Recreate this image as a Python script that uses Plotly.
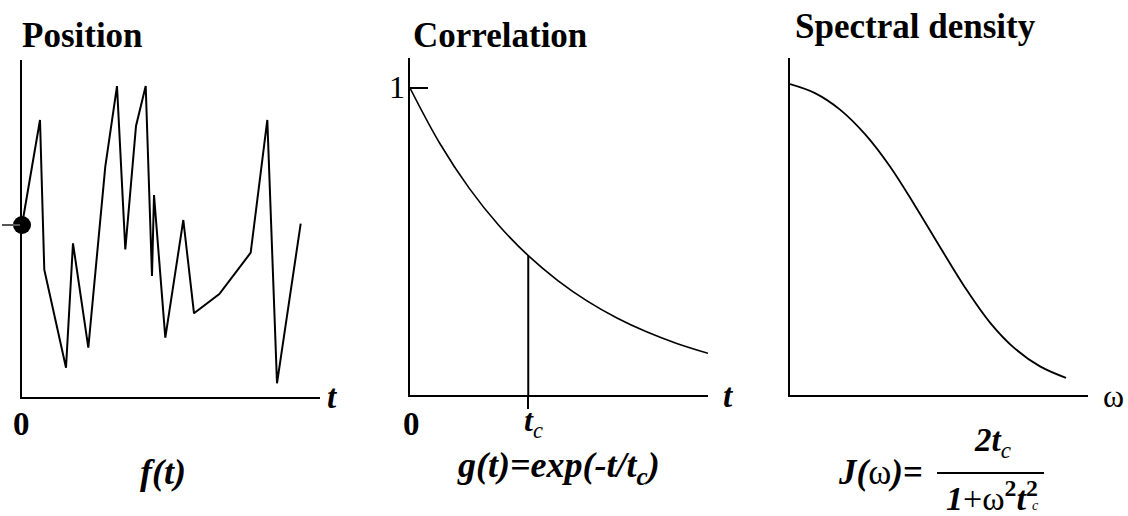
import plotly.graph_objects as go

W, H = 1128, 516

# --- Position: random trajectory f(t) ---
pos_t = [0, 0.604, 0.748, 1.477, 1.711, 2.225, 2.795, 3.188, 3.467, 3.826, 4.151,
         4.362, 4.430, 4.809, 5.413, 5.772, 6.621, 7.674, 8.232, 8.557, 9.352]
pos_f = [5.104, 8.220, 3.777, 0.869, 4.561, 1.463, 6.835, 9.228, 4.380, 8.042, 9.228,
         3.591, 5.994, 1.760, 5.252, 2.484, 3.056, 4.282, 8.220, 0.406, 5.144]

# --- Correlation g(t), time in units of t_c ---
corr_t = [0, 0.25, 0.5, 0.75, 1.0, 1.25, 1.5, 1.75, 2.0, 2.25, 2.52]
corr_g = [1.0, 0.821, 0.674, 0.553, 0.454, 0.373, 0.306, 0.251, 0.206, 0.169, 0.136]
tc_mark = 1.0

# --- Spectral density J(omega) ---
spec_w = [0, 0.25, 0.5, 0.75, 1.0, 1.25, 1.5, 1.75, 2.0, 2.25, 2.5, 2.76]
spec_j = [1.0, 0.971, 0.918, 0.839, 0.735, 0.609, 0.476, 0.346, 0.233, 0.149, 0.092, 0.055]

FONT = "Liberation Serif, Times New Roman, Times, serif"


def px(x):
    return x / W


def py(y):
    return 1 - y / H


fig = go.Figure()

line = dict(color="black", width=2)
fig.add_trace(go.Scatter(x=pos_t, y=pos_f, mode="lines", line=line,
                         xaxis="x", yaxis="y", hoverinfo="skip"))
fig.add_trace(go.Scatter(x=[pos_t[0]], y=[pos_f[0]], mode="markers",
                         marker=dict(color="black", size=18), cliponaxis=False,
                         xaxis="x", yaxis="y", hoverinfo="skip"))

fig.add_trace(go.Scatter(x=corr_t, y=corr_g, mode="lines",
                         line=dict(color="black", width=1.6, shape="spline"),
                         xaxis="x2", yaxis="y2", hoverinfo="skip"))
g_at_tc = corr_g[corr_t.index(tc_mark)]
fig.add_trace(go.Scatter(x=[tc_mark, tc_mark], y=[0, g_at_tc], mode="lines",
                         line=line, xaxis="x2", yaxis="y2", hoverinfo="skip"))

fig.add_trace(go.Scatter(x=spec_w, y=spec_j, mode="lines",
                         line=dict(color="black", width=1.8, shape="spline"),
                         xaxis="x3", yaxis="y3", hoverinfo="skip"))

base_axis = dict(showline=True, linewidth=2, linecolor="black", showgrid=False,
                 zeroline=False, showticklabels=False, ticks="", fixedrange=True)

fig.update_layout(
    width=W, height=H,
    margin=dict(l=0, r=0, t=0, b=0),
    paper_bgcolor="white", plot_bgcolor="white",
    showlegend=False,
    xaxis=dict(base_axis, domain=[px(22), px(320)], range=[0, 10], anchor="y"),
    yaxis=dict(base_axis, domain=[py(397), py(60)], range=[0, 10], anchor="x",
               ticks="outside", tickvals=[pos_f[0]], ticklen=18, tickwidth=1.5,
               tickcolor="#555555"),
    xaxis2=dict(base_axis, domain=[px(410), px(708)], range=[0, 2.52], anchor="y2",
                ticks="outside", tickvals=[tc_mark], ticklen=12, tickwidth=2,
                tickcolor="black"),
    yaxis2=dict(base_axis, domain=[py(395), py(58)], range=[0, 1.098], anchor="x2",
                ticks="inside", tickvals=[1], ticklen=18, tickwidth=2,
                tickcolor="black"),
    xaxis3=dict(base_axis, domain=[px(790), px(1088)], range=[0, 2.98], anchor="y3"),
    yaxis3=dict(base_axis, domain=[py(395), py(58)], range=[0, 1.084], anchor="x3"),
)


def label(text, x, y, size=33, xanchor="center", yanchor="middle"):
    fig.add_annotation(text=text, x=px(x), y=py(y), xref="paper", yref="paper",
                       showarrow=False, xanchor=xanchor, yanchor=yanchor,
                       font=dict(family=FONT, size=size, color="black"))


# panel titles
label("<b>Position</b>", 20, 35, size=35, xanchor="left")
label("<b>Correlation</b>", 411, 35, size=35, xanchor="left")
label("<b>Spectral density</b>", 793, 27, size=35, xanchor="left")

# axis annotations
label("<b>0</b>", 21, 424)
label("<b><i>t</i></b>", 332, 397)
label("<b>0</b>", 411, 424)
label("<b><i>t</i></b>", 728, 396)
label("1", 397, 87, size=32)
label("<b><i>t</i></b><sub><i>c</i></sub>", 533, 422, size=32)
label("ω", 1113, 396, size=32)

# formulas
label("<b><i>f(t)</i></b>", 163, 472, size=36)
label("<b><i>g(t)=exp(-t/t</i></b><sub><b><i>c</i></b></sub><b><i>)</i></b>", 558, 467, size=36)
label("<b><i>J(</i></b>ω<b><i>)=</i></b>", 880, 472, size=35)
label("<b><i>2t</i></b><sub><i>c</i></sub>", 992, 442, size=33)
label("<b><i>1</i></b>+ω<sup><b>2</b></sup><b><i>t</i></b><sup><b>2</b></sup>", 992, 496, size=34)
label("<i>c</i>", 1035, 505, size=14)

fig.add_shape(type="line", xref="paper", yref="paper",
              x0=px(937), x1=px(1044), y0=py(473), y1=py(473),
              line=dict(color="black", width=2))

fig.write_html("out.html")
